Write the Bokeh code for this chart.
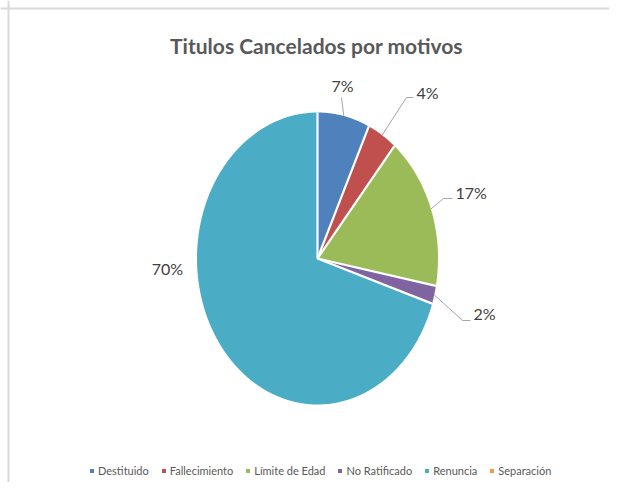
import numpy as np
from bokeh.plotting import figure
from bokeh.models import Range1d, Legend, LegendItem, Label, Span
from bokeh.core.properties import value
from bokeh.embed import file_html
from bokeh.resources import INLINE

# ---- data ----
categories = ["Destituido", "Fallecimiento", "Límite de Edad", "No Ratificado", "Renuncia", "Separación"]
percents = [7, 4, 17, 2, 70, 0]
colors = ["#4F81BD", "#C0504D", "#9BBB59", "#8064A2", "#4BACC6", "#F79646"]
title_text = "Titulos Cancelados por motivos"

# ---- layout (pixel units relative to pie centre) ----
W, H = 609, 482
RX, RY = 120.5, 146.0
label_pos = [(25, 173, "center"), (99, 166, "left"), (138, 66, "left"), (156, -55, "left"), (-150, -10, "center"), None]
leader_pts = [[(24, 161)], [(89, 161), (96, 161)], [(126, 60), (135, 60)], [(145, -62), (153, -62)], None, None]

FONT = "Lato"

p = figure(width=W, height=H, x_range=Range1d(-317, 292), y_range=Range1d(-224, 258),
           output_backend="svg", toolbar_location=None, min_border=0)
p.axis.visible = False
p.grid.visible = False
p.outline_line_color = None
p.background_fill_color = "white"
p.border_fill_color = "white"

total = float(sum(percents))
cum = 0.0
mids, bounds, renderers = [], [], []
for v, c in zip(percents, colors):
    a0 = cum / total * 2 * np.pi
    cum += v
    a1 = cum / total * 2 * np.pi
    mids.append((a0 + a1) / 2)
    t = np.linspace(a0, a1, max(int(v * 4), 8))
    xs = [0.0] + list(RX * np.sin(t)) + [0.0]
    ys = [0.0] + list(RY * np.cos(t)) + [0.0]
    r = p.patch(x=xs, y=ys, fill_color=c, line_color=None)
    renderers.append(r)
    if v > 0:
        bounds.append(a0)

# white separators between slices
p.multi_line(xs=[[0, RX * np.sin(a)] for a in bounds], ys=[[0, RY * np.cos(a)] for a in bounds],
             line_color="white", line_width=2.2)

# leader lines
lx, ly = [], []
for m, pts in zip(mids, leader_pts):
    if not pts:
        continue
    sx, sy = RX * np.sin(m), RY * np.cos(m)
    lx.append([sx] + [q[0] for q in pts])
    ly.append([sy] + [q[1] for q in pts])
p.multi_line(xs=lx, ys=ly, line_color="#A6A6A6", line_width=1)

# percentage labels
for v, pos in zip(percents, label_pos):
    if pos is None:
        continue
    p.text(x=[pos[0]], y=[pos[1]], text=[f"{v}%"], text_align=pos[2], text_baseline="middle",
           text_font=value(FONT), text_font_size="16px", text_color="#404040")

# title
p.add_layout(Label(x=316, y=437, x_units="screen", y_units="screen", text=title_text,
                   text_align="center", text_baseline="middle", text_font=FONT,
                   text_font_size="21px", text_font_style="bold", text_color="#595959"))

# legend
items = [LegendItem(label=cat, renderers=[r]) for cat, r in zip(categories, renderers)]
leg = Legend(items=items, orientation="horizontal", location=(89, 5), padding=0, margin=0,
             spacing=12, glyph_width=5, glyph_height=5, label_standoff=4, label_height=12,
             label_text_font=FONT, label_text_font_size="11px", label_text_color="#595959",
             border_line_color=None, background_fill_alpha=0)
p.add_layout(leg, "center")

# chart border (top and left)
p.add_layout(Span(location=250, dimension="width", line_color="#D9D9D9", line_width=2))
p.add_layout(Span(location=-309, dimension="height", line_color="#D9D9D9", line_width=2))

open("out.html", "w").write(file_html(p, INLINE))
